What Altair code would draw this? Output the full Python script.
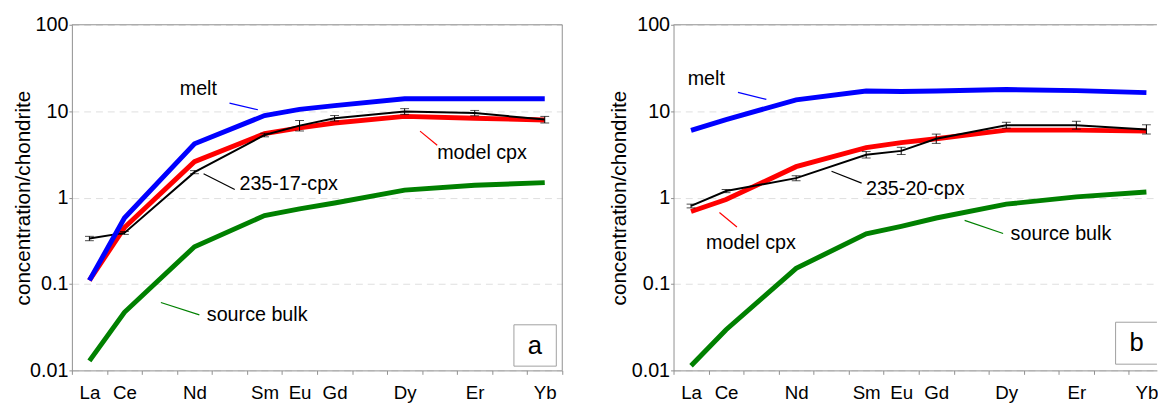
import altair as alt
import pandas as pd

# Lanthanide row in order; only some members were analysed
lanthanides = ["La", "Ce", "Pr", "Nd", "Pm", "Sm", "Eu", "Gd", "Tb", "Dy", "Ho", "Er", "Tm", "Yb"]
elements = ["La", "Ce", "Nd", "Sm", "Eu", "Gd", "Dy", "Er", "Yb"]

# Panel a: sample 235-17 (chondrite-normalised)
melt_a = [0.11, 0.58, 4.2, 8.9, 10.5, 11.6, 13.9, 13.9, 13.9]
model_a = [0.11, 0.45, 2.6, 5.5, 6.4, 7.3, 8.7, 8.3, 7.9]
cpx_a = [0.336, 0.39, 1.97, 5.3, 6.8, 8.3, 9.9, 9.5, 8.0]
cpx_a_lo = [0.317, 0.375, 1.89, 5.05, 5.9, 7.7, 9.2, 8.85, 7.3]
cpx_a_hi = [0.356, 0.405, 2.05, 5.55, 7.8, 8.9, 10.7, 10.2, 8.7]
bulk_a = [0.0129, 0.047, 0.27, 0.62, 0.74, 0.865, 1.22, 1.39, 1.49]

# Panel b: sample 235-20
melt_b = [6.0, 8.0, 13.5, 17.1, 16.9, 17.1, 17.8, 17.3, 16.4]
model_b = [0.69, 0.95, 2.28, 3.79, 4.33, 4.8, 6.03, 6.03, 5.88]
cpx_b = [0.80, 1.19, 1.68, 3.13, 3.47, 4.8, 6.88, 6.88, 6.15]
cpx_b_lo = [0.76, 1.14, 1.57, 2.87, 3.15, 4.24, 6.36, 6.19, 5.44]
cpx_b_hi = [0.84, 1.24, 1.79, 3.41, 3.82, 5.43, 7.44, 7.64, 6.96]
bulk_b = [0.0113, 0.0296, 0.152, 0.38, 0.465, 0.58, 0.84, 1.02, 1.16]

# Curve labels (text, x in lanthanide slots, y value) and their leader lines
notes_a = [("melt", 3.61, 18.2), ("model cpx", 11.71, 3.24),
           ("235-17-cpx", 6.19, 1.45), ("source bulk", 5.29, 0.0432)]
leaders_a = [(4.50, 5.31, 12.4, 10.4, "#0000ff"), (9.94, 10.43, 5.88, 4.04, "#ff0000"),
             (3.76, 4.65, 1.887, 1.24, "#000000"), (2.54, 3.64, 0.0611, 0.0439, "#008000")]
notes_b = [("melt", 0.935, 23.8), ("235-20-cpx", 6.90, 1.24),
           ("model cpx", 2.21, 0.30), ("source bulk", 11.06, 0.374)]
leaders_b = [(1.84, 2.65, 16.5, 13.7, "#0000ff"), (4.51, 5.37, 2.02, 1.47, "#000000"),
             (1.31, 1.81, 0.671, 0.457, "#ff0000"), (8.31, 9.41, 0.545, 0.384, "#008000")]

FONT = "Liberation Sans"
AXIS_GREY = "#8f8f8f"
SLOT_PX = 35.57
HEIGHT = 351


def panel(melt, model, cpx, lo, hi, bulk, notes, leaders, tag, tag_y, box_y, xmax,
          right_border, title_pad):
    width = round(SLOT_PX * xmax, 1)
    xs = [lanthanides.index(e) + 0.5 for e in elements]
    df = pd.DataFrame({"x": xs, "el": elements, "melt": melt, "model": model,
                       "cpx": cpx, "lo": lo, "hi": hi, "bulk": bulk})

    names = [e if e in elements else "" for e in lanthanides] + [""]
    label_expr = "[" + ",".join("'%s'" % n for n in names) + "][datum.value]"

    xscale = alt.Scale(domain=[0, xmax], nice=False, zero=False)
    yscale = alt.Scale(type="log", domain=[0.01, 100], nice=False)
    xaxis = alt.Axis(values=list(range(0, int(xmax) + 1)), labelExpr=label_expr,
                     labelOffset=SLOT_PX / 2, labelFlush=False, labelOverlap=False,
                     labelBound=False, grid=False, title=None, tickSize=4,
                     labelPadding=10, labelFontSize=19)
    yaxis = alt.Axis(values=[0.01, 0.1, 1, 10, 100], format="~g", grid=True,
                     gridDash=[7, 5], gridColor="#dedede", tickSize=3, labelPadding=1,
                     labelFontSize=20, title="concentration/chondrite", titleFontSize=21,
                     titlePadding=title_pad)

    X = alt.X("x:Q", scale=xscale, axis=xaxis)

    def curve(field, color, w):
        return alt.Chart(df).mark_line(color=color, strokeWidth=w).encode(
            x=X, y=alt.Y(field + ":Q", scale=yscale, axis=yaxis))

    bars = alt.Chart(df).mark_rule(color="black", strokeWidth=1).encode(
        x=X, y=alt.Y("lo:Q", scale=yscale, axis=yaxis), y2="hi:Q")
    cap_lo = alt.Chart(df).mark_tick(color="black", orient="horizontal", size=9, thickness=1).encode(
        x=X, y=alt.Y("lo:Q", scale=yscale, axis=yaxis))
    cap_hi = alt.Chart(df).mark_tick(color="black", orient="horizontal", size=9, thickness=1).encode(
        x=X, y=alt.Y("hi:Q", scale=yscale, axis=yaxis))

    ndf = pd.DataFrame(notes, columns=["text", "x", "y"])
    text = alt.Chart(ndf).mark_text(font=FONT, fontSize=20, color="black").encode(
        x=alt.X("x:Q", scale=xscale, axis=xaxis),
        y=alt.Y("y:Q", scale=yscale, axis=yaxis), text="text:N")

    ldf = pd.DataFrame(leaders, columns=["x", "x2", "y", "y2", "c"])
    lead = alt.Chart(ldf).mark_rule(strokeWidth=1.2).encode(
        x=alt.X("x:Q", scale=xscale, axis=xaxis), x2="x2:Q",
        y=alt.Y("y:Q", scale=yscale, axis=yaxis), y2="y2:Q",
        color=alt.Color("c:N", scale=None))

    bdf = pd.DataFrame({"x": [12.62], "x2": [13.83], "y": [box_y[0]], "y2": [box_y[1]],
                        "tx": [13.22], "ty": [tag_y], "tag": [tag]})
    box = alt.Chart(bdf).mark_rect(fill="white", stroke="#a0a0a0", strokeWidth=1, clip=True).encode(
        x=alt.X("x:Q", scale=xscale, axis=xaxis), x2="x2:Q",
        y=alt.Y("y:Q", scale=yscale, axis=yaxis), y2="y2:Q")
    box_text = alt.Chart(bdf).mark_text(font=FONT, fontSize=26, color="black").encode(
        x=alt.X("tx:Q", scale=xscale, axis=xaxis),
        y=alt.Y("ty:Q", scale=yscale, axis=yaxis), text="tag:N")

    one = pd.DataFrame({"d": [0]})
    frame = [alt.Chart(one).mark_rule(color=AXIS_GREY, strokeWidth=1).encode(
        x=alt.value(0), x2=alt.value(width), y=alt.value(0))]
    if right_border:
        frame.append(alt.Chart(one).mark_rule(color=AXIS_GREY, strokeWidth=1).encode(
            x=alt.value(width), y=alt.value(0), y2=alt.value(HEIGHT)))

    layers = [curve("bulk", "#008000", 5), curve("model", "#ff0000", 5),
              curve("cpx", "black", 2), bars, cap_lo, cap_hi,
              curve("melt", "#0000ff", 5), lead, text, box, box_text] + frame
    return alt.layer(*layers).properties(width=width, height=HEIGHT)


left = panel(melt_a, model_a, cpx_a, cpx_a_lo, cpx_a_hi, bulk_a, notes_a, leaders_a,
             "a", 0.0193, (0.0112, 0.0337), 14, True, -4)
right = panel(melt_b, model_b, cpx_b, cpx_b_lo, cpx_b_hi, bulk_b, notes_b, leaders_b,
              "b", 0.0208, (0.0118, 0.0361), 13.8, False, 2)

chart = alt.hconcat(left, right, spacing=29).properties(
    padding={"left": 13, "top": 12, "right": 0, "bottom": 0},
    background="white",
).configure_view(stroke=None).configure_axis(
    labelFont=FONT, titleFont=FONT, labelColor="black", titleColor="black",
    titleFontWeight="normal", domainColor=AXIS_GREY, tickColor=AXIS_GREY,
)

chart.save("out.html", embed_options={"renderer": "svg", "actions": False})
